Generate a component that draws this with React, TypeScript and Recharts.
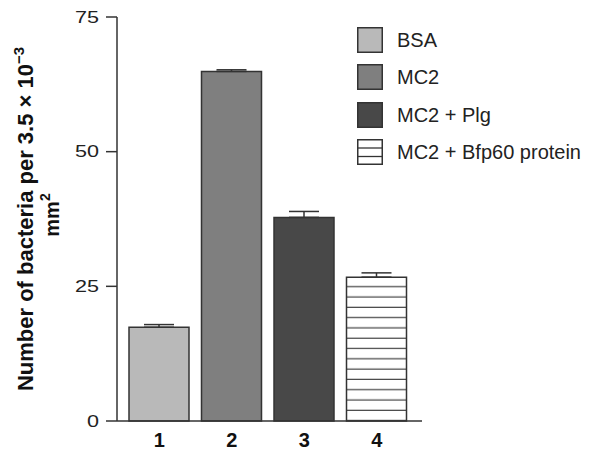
import React from 'react';
import { BarChart, Bar, XAxis, YAxis, ErrorBar, Cell } from 'recharts';

const categories = ['1', '2', '3', '4'];
const seriesNames = ['BSA', 'MC2', 'MC2 + Plg', 'MC2 + Bfp60 protein'];
const values = [17.4, 64.9, 37.8, 26.7];
const errors = [0.5, 0.3, 1.1, 0.8];
const yTicks = [0, 25, 50, 75];
const fills = ['#b9b9b9', '#7f7f7f', '#484848', 'url(#stripes)'];

const data = categories.map((c, i) => ({
  cat: c,
  name: seriesNames[i],
  value: values[i],
  err: [0, errors[i]],
}));

const FONT = '"Liberation Sans", Arial, Helvetica, sans-serif';
const AX = '#333';

const YTick = (props: any) => {
  const { x, y, payload } = props;
  return (
    <g transform={`translate(${x} ${y}) scale(1.35 1)`}>
      <text x={0} y={0} dy="0.36em" textAnchor="end" fontSize={16} fill="#222" fontFamily={FONT}>
        {payload.value}
      </text>
    </g>
  );
};

const XTick = (props: any) => {
  const { x, y, payload } = props;
  return (
    <text x={x} y={y} dy="0.71em" textAnchor="middle" fontSize={20} fontWeight="bold" fill="#111" fontFamily={FONT}>
      {payload.value}
    </text>
  );
};

const YLabel = (props: any) => {
  const vb = props.viewBox || { x: 0, y: 17, width: 117, height: 404 };
  const cy = vb.y + vb.height / 2;
  const x1 = vb.x + 33;
  const x2 = vb.x + 59;
  return (
    <g fontFamily={FONT} fontWeight="bold" fill="#111">
      <text x={x1} y={cy} transform={`rotate(-90 ${x1} ${cy})`} textAnchor="middle" fontSize={22}>
        Number of bacteria per 3.5 × 10
        <tspan dy={-9} fontSize={15}>−3</tspan>
      </text>
      <text x={x2} y={cy - 4} transform={`rotate(-90 ${x2} ${cy - 4})`} textAnchor="middle" fontSize={20}>
        mm
        <tspan dy={-9} fontSize={14}>2</tspan>
      </text>
    </g>
  );
};

const Swatch = ({ i }: { i: number }) => {
  if (i === 3) {
    return (
      <svg width={26} height={26} style={{ display: 'block' }}>
        <rect x={0.75} y={0.75} width={24.5} height={24.5} fill="#fff" stroke={AX} strokeWidth={1.5} />
        <line x1={0} x2={26} y1={9} y2={9} stroke={AX} strokeWidth={1.3} />
        <line x1={0} x2={26} y1={17.5} y2={17.5} stroke={AX} strokeWidth={1.3} />
      </svg>
    );
  }
  return (
    <svg width={26} height={26} style={{ display: 'block' }}>
      <rect x={0.75} y={0.75} width={24.5} height={24.5} fill={fills[i]} stroke={AX} strokeWidth={1.5} />
    </svg>
  );
};

const LegendBox = () => (
  <div style={{ position: 'absolute', left: 357, top: 27, fontFamily: FONT }}>
    {seriesNames.map((n, i) => (
      <div key={n} style={{ display: 'flex', alignItems: 'center', height: 26, marginBottom: 11.3 }}>
        <Swatch i={i} />
        <span style={{ marginLeft: 14, fontSize: 20, color: '#222', whiteSpace: 'nowrap', lineHeight: '26px' }}>{n}</span>
      </div>
    ))}
  </div>
);

export default function App() {
  return (
    <div style={{ position: 'absolute', left: 0, top: 0, width: 600, height: 458, background: '#fff' }}>
      <svg width={0} height={0} style={{ position: 'absolute' }}>
        <defs>
          <pattern id="stripes" patternUnits="userSpaceOnUse" x={0} y={281.7} width={10} height={10.3}>
            <rect x={0} y={0} width={10} height={10.3} fill="#fff" />
            <line x1={0} x2={10} y1={5} y2={5} stroke="#444" strokeWidth={1.2} />
          </pattern>
        </defs>
      </svg>
      <BarChart
        width={600}
        height={458}
        data={data}
        margin={{ top: 17, right: 178, bottom: 0, left: 0 }}
      >
        <XAxis
          dataKey="cat"
          stroke={AX}
          strokeWidth={1.5}
          tickLine={false}
          tickSize={0}
          tickMargin={12}
          height={37}
          padding={{ left: 6, right: 9 }}
          tick={<XTick />}
        />
        <YAxis
          domain={[0, 75]}
          ticks={yTicks}
          width={117}
          stroke={AX}
          strokeWidth={1.5}
          tickSize={11}
          tickMargin={7}
          tick={<YTick />}
          label={<YLabel />}
        />
        <Bar dataKey="value" barSize={60} stroke={AX} strokeWidth={1.5} isAnimationActive={false}>
          {data.map((d, i) => (
            <Cell key={d.cat} fill={fills[i]} />
          ))}
          <ErrorBar dataKey="err" width={15} stroke={AX} strokeWidth={1.5} direction="y" />
        </Bar>
      </BarChart>
      <LegendBox />
    </div>
  );
}
